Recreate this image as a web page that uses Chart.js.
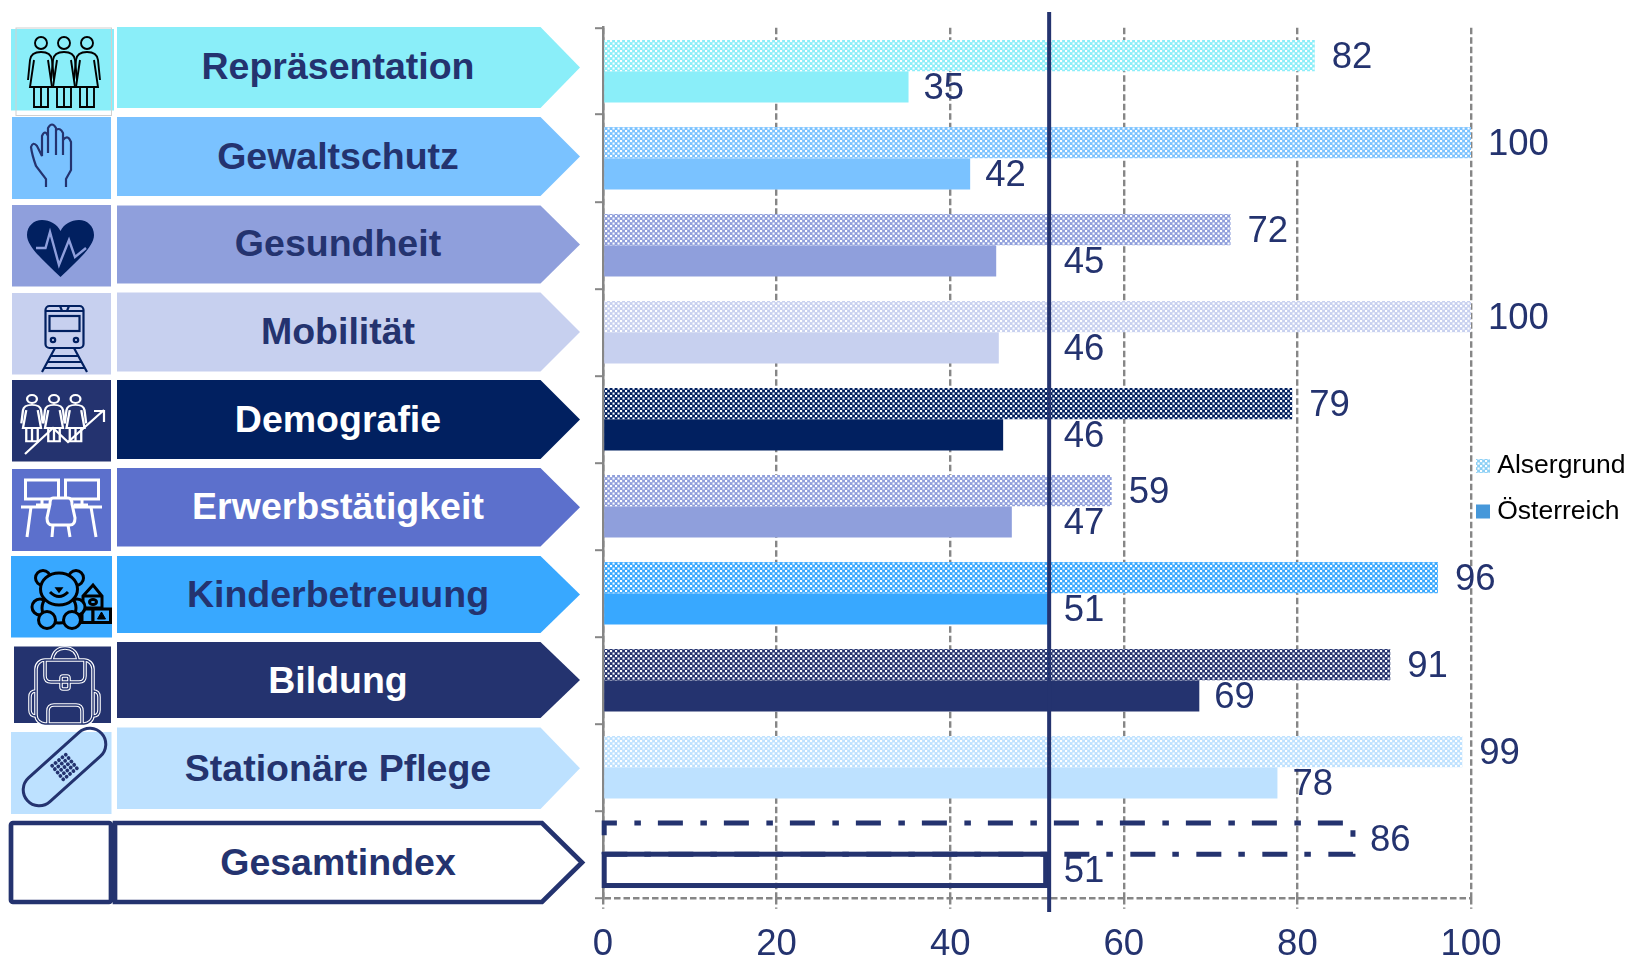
<!DOCTYPE html>
<html lang="de">
<head>
<meta charset="utf-8">
<title>Gleichstellungsindex Alsergrund</title>
<script src="https://cdn.jsdelivr.net/npm/chart.js@4"></script>
<style>
  html, body { margin: 0; background: #fff; }
  #wrap { position: relative; width: 1627px; height: 958px; overflow: hidden; }
  #wrap svg, #wrap canvas { position: absolute; left: 0; top: 0; }
  #side text { font: bold 37.5px "Liberation Sans", Arial, sans-serif; text-anchor: middle; }
</style>
</head>
<body>
<div id="wrap">
<svg id="side" width="1627" height="958" xmlns="http://www.w3.org/2000/svg">
  <defs>
    <g id="frau" fill="none">
      <circle cx="0" cy="0" r="6"/>
      <path d="M-13 37 L-11 17 Q-10 9 0 9 Q10 9 11 17 L13 37"/>
      <path d="M-7 17 L-11 44 H11 L7 17"/>
      <path d="M-7 44 V64 H7 V44 M0 44 V64"/>
    </g>
    <g id="rucksack" fill="none">
      <path d="M52 660 Q54 648 65 648 Q76 648 78 660"/>
      <rect x="36" y="660" width="57" height="64" rx="9"/>
      <path d="M45 660 V676 Q45 682 51 682 H79 Q85 682 85 676 V660"/>
      <rect x="61" y="676" width="8" height="13" rx="2"/>
      <path d="M48 724 V711 Q48 705 54 705 H76 Q82 705 82 711 V724"/>
      <path d="M36 691 Q30 691 30 697 V710 Q30 716 36 716"/>
      <path d="M93 691 Q99 691 99 697 V710 Q99 716 93 716"/>
    </g>
  </defs>
  <g id="boxes"></g>

  <!-- Repräsentation -->
  <rect x="16" y="28" width="95.5" height="87.5" fill="none" stroke="#d0d0d0" stroke-width="1"/>
  <g stroke="#000" stroke-width="1.9">
    <use href="#frau" x="41" y="43"/><use href="#frau" x="87" y="43"/><use href="#frau" x="64" y="43"/>
  </g>

  <!-- Gewaltschutz -->
  <path d="M46 187 V179 L36 166 Q32 155 31 147 Q33 141 37 146 L42 156 V136 Q45 129 48 136 V153 M48 136 V128 Q52 121 56 128 V155 M56 130 Q60 127 63 133 V155 M63 140 Q68 134 71 142 V170 L66 179 V187" fill="none" stroke="#24336f" stroke-width="2.2"/>

  <!-- Gesundheit -->
  <path d="M60.5 277 C45 262 27 247 27 235 C27 226 34 220 42 220 C50 220 57 224 60.5 231 C64 224 71 220 79 220 C87 220 94 226 94 235 C94 247 76 262 60.5 277 Z" fill="#012060"/>
  <path d="M36 248 H45.5 L50 232 L59 265 L69 240 L75 257 L86 248" fill="none" stroke="#8f9fdc" stroke-width="2.4"/>

  <!-- Mobilität -->
  <g fill="none" stroke="#012060" stroke-width="2.2">
    <rect x="45.5" y="306" width="38" height="42" rx="4"/>
    <rect x="49.5" y="316" width="30" height="15"/>
    <path d="M45.5 311 H83.5 M60 306 L62 311 H67 L69 306"/>
    <circle cx="53" cy="340" r="2.2"/><circle cx="76" cy="340" r="2.2"/>
    <path d="M55 348 L42 372 M74 348 L87 372 M50 356 H79 M47 362 H82 M44 368 H85"/>
  </g>

  <!-- Demografie -->
  <g stroke="#fff" stroke-width="2.8">
    <g transform="translate(32 399) scale(.82 .66)"><use href="#frau"/></g>
    <g transform="translate(54 399) scale(.82 .66)"><use href="#frau"/></g>
    <g transform="translate(75.5 399) scale(.82 .66)"><use href="#frau"/></g>
  </g>
  <path d="M25 454 L53 428 L68 442 L104 410 M94 411 H104 V422" fill="none" stroke="#fff" stroke-width="2.2"/>

  <!-- Erwerbstätigkeit -->
  <g fill="none" stroke="#fff" stroke-width="3">
    <rect x="25.5" y="480" width="33" height="19"/>
    <rect x="65.5" y="480" width="33" height="19"/>
    <path d="M21 507 H102 M31 507 L27 537 M91 507 L96 537 M42 499 V506 M36 505 H50 M82 499 V506 M74 505 H88"/>
    <path d="M53 498 H68 Q72 498 72 504 L75 518 Q75 525 70 525 H52 Q47 525 47 518 L50 504 Q50 498 53 498 Z" fill="#5c70cc"/>
    <path d="M53 525 L52 537 M68 525 L70 537"/>
  </g>

  <!-- Kinderbetreuung -->
  <g fill="#38a8ff" stroke="#000" stroke-width="3">
    <path d="M83 596 L93 585 L102 596 V608 H83 Z M83 596 H102"/>
    <ellipse cx="93" cy="602" rx="3.5" ry="2.5"/>
    <rect x="82" y="609" width="11" height="13.5"/>
    <rect x="93" y="609" width="17.5" height="13.5"/>
    <path d="M101.5 612 L105.5 619 H97.5 Z" fill="#000" stroke-width="1"/>
    <circle cx="43" cy="578" r="7.5"/><circle cx="76" cy="578" r="7.5"/>
    <circle cx="40" cy="607" r="8"/><circle cx="77" cy="607" r="8"/>
    <ellipse cx="59" cy="608" rx="17" ry="15"/>
    <circle cx="47" cy="620" r="8.5"/><circle cx="72" cy="620" r="8.5"/>
    <ellipse cx="59" cy="589" rx="18.5" ry="16"/>
    <path d="M50 592 Q59 601 68 592" fill="none"/>
    <path d="M56 588 H62 L59 592 Z" fill="#000" stroke-width="1.5"/>
  </g>

  <!-- Bildung -->
  <use href="#rucksack" stroke="#fff" stroke-width="3.6"/>
  <use href="#rucksack" stroke="#24336f" stroke-width="1.4"/>

  <!-- Stationäre Pflege -->
  <g transform="translate(64.5 767) rotate(-42)">
    <rect x="-50" y="-16" width="100" height="32" rx="16" fill="none" stroke="#24336f" stroke-width="3"/>
    <g id="pflaster" fill="#24336f"></g>
  </g>
  <g id="labels"></g>
</svg>
<canvas id="grafico" width="1627" height="958"></canvas>
</div>

<script>
const categorias = ["Repräsentation","Gewaltschutz","Gesundheit","Mobilität","Demografie","Erwerbstätigkeit","Kinderbetreuung","Bildung","Stationäre Pflege","Gesamtindex"];
const alsergrund = [82,100,72.3,100,79.4,58.6,96.2,90.7,99,86.4];
const oesterreich = [35.2,42.3,45.3,45.6,46.1,47.1,51.3,68.7,77.7,51];
const ticksX = [0,20,40,60,80,100];
const mittelwert = 51.4;

// colours, one per category
const colorBarra = ["#8aeef9","#7ac2ff","#8f9fdc","#c7d0ef","#012060","#8f9fdc","#38a8ff","#24336f","#bde1ff","transparent"];
const azul = "#24336f";
const gris = "#868686";

// left column: arrow + icon box per row, in page pixels
const filas = [
  {fill:"#8aeef9", top:27,  bot:108, boxL:11, boxR:114, boxT:29,  boxB:110.5, base:79,  text:azul},
  {fill:"#7ac2ff", top:117, bot:196, boxL:12, boxR:111, boxT:117, boxB:199,   base:169, text:azul},
  {fill:"#8f9fdc", top:205.5,bot:283.5,boxL:12,boxR:111,boxT:205, boxB:286.5, base:256, text:azul},
  {fill:"#c7d0ef", top:292.5,bot:371.5,boxL:12,boxR:111,boxT:293, boxB:374.5, base:344, text:azul},
  {fill:"#012060", top:380, bot:459, boxL:12, boxR:111, boxT:380, boxB:461.5, base:432, text:"#fff", box:"#24336f"},
  {fill:"#5c70cc", top:468, bot:546.5,boxL:12,boxR:111, boxT:469, boxB:551,   base:519, text:"#fff"},
  {fill:"#38a8ff", top:556, bot:633, boxL:11, boxR:112, boxT:556, boxB:637.5, base:607, text:azul},
  {fill:"#24336f", top:642, bot:718, boxL:14, boxR:111, boxT:646.5,boxB:723,  base:693, text:"#fff"},
  {fill:"#bde1ff", top:727.5,bot:809,boxL:11, boxR:111.5,boxT:732,boxB:814,   base:781, text:azul}
];
const ns = "http://www.w3.org/2000/svg";
function svgEl(parent, tag, attrs, txt) {
  const el = document.createElementNS(ns, tag);
  for (const k in attrs) el.setAttribute(k, attrs[k]);
  if (txt) el.textContent = txt;
  parent.appendChild(el);
  return el;
}
const boxes = document.getElementById("boxes");
const etiquetas = document.getElementById("labels");
filas.forEach((f,i) => {
  const mid = (f.top+f.bot)/2;
  svgEl(boxes,"rect",{x:f.boxL,y:f.boxT,width:f.boxR-f.boxL,height:f.boxB-f.boxT,fill:f.box||f.fill});
  svgEl(boxes,"polygon",{points:`117,${f.top} 540.5,${f.top} 580,${mid} 540.5,${f.bot} 117,${f.bot}`,fill:f.fill});
  svgEl(etiquetas,"text",{x:338,y:f.base,fill:f.text},categorias[i]);
});
// Gesamtindex row is only outlined
svgEl(boxes,"rect",{x:11,y:823,width:100,height:79,rx:2,fill:"none",stroke:azul,"stroke-width":4.7});
svgEl(boxes,"polygon",{points:"115,823 542,823 582,862.5 542,902 115,902",fill:"none",stroke:azul,"stroke-width":4.7});
svgEl(etiquetas,"text",{x:338,y:875,fill:azul},categorias[9]);
// dots on the plaster
const pflaster = document.getElementById("pflaster");
for (let a=-2;a<=2;a++) for (let b=-2;b<=2;b++) {
  const r = Math.PI*3/180;
  svgEl(pflaster,"circle",{cx:(a*4.4*Math.cos(r)-b*4.4*Math.sin(r)).toFixed(1),cy:(a*4.4*Math.sin(r)+b*4.4*Math.cos(r)).toFixed(1),r:1.9});
}

function trama(color) {
  const c = document.createElement("canvas");
  c.width = 5; c.height = 5;
  const g = c.getContext("2d");
  g.fillStyle = color; g.fillRect(0,0,5,5);
  g.fillStyle = "#fff";
  g.fillRect(0,0,2.1,2.1);
  g.fillRect(2.5,2.5,2.1,2.1);
  return g.createPattern(c,"repeat");
}

// outline bars, reference line and value labels
const extras = {
  id: "extras",
  afterDatasetsDraw(chart) {
    const {ctx, scales:{x}} = chart;
    const barA = chart.getDatasetMeta(0).data;
    const barB = chart.getDatasetMeta(1).data;
    const lineaX = x.getPixelForValue(mittelwert);

    ctx.save();
    ctx.strokeStyle = azul;
    ctx.lineWidth = 5;
    const a = barA[9], b = barB[9];
    ctx.setLineDash([25,17.5,6.5,17]);
    ctx.lineDashOffset = 47;
    ctx.beginPath();
    ctx.moveTo(a.base, a.y+a.height/2);
    ctx.lineTo(a.base, a.y-a.height/2);
    ctx.lineTo(a.x, a.y-a.height/2);
    ctx.lineTo(a.x, a.y+a.height/2);
    ctx.lineTo(a.base, a.y+a.height/2);
    ctx.stroke();
    ctx.setLineDash([]);
    ctx.strokeRect(b.base, b.y-b.height/2, b.x-b.base, b.height);

    ctx.lineWidth = 4;
    ctx.beginPath();
    ctx.moveTo(lineaX, 12);
    ctx.lineTo(lineaX, 912);
    ctx.stroke();

    ctx.fillStyle = azul;
    ctx.font = '36.5px "Liberation Sans", Arial, sans-serif';
    ctx.textBaseline = "middle";
    ctx.textAlign = "left";
    categorias.forEach((c,i) => {
      ctx.fillText(Math.round(alsergrund[i]), barA[i].x+17, barA[i].y+2.5);
      // labels that would hit the line go behind it
      const xb = barB[i].x+15;
      const cruza = xb < lineaX && xb+42 > lineaX;
      ctx.fillText(Math.round(oesterreich[i]), cruza || barB[i].x >= lineaX-8 && barB[i].x <= lineaX ? lineaX+14.5 : xb, barB[i].y+2.5);
    });
    ctx.restore();
  },
  afterLayout(chart) {
    // legend floats right of the plot, over the page margin
    const l = chart.legend;
    const w = l.width, h = l.height;
    l.left = 1463; l.right = 1463+w;
    l.top = 433.75; l.bottom = 433.75+h;
  }
};

let miCanvas = document.getElementById("grafico").getContext("2d");
var chart = new Chart(miCanvas,{
  type:"bar",
  plugins:[extras],
  data:{
    labels:categorias,
    datasets:[
      {
        label:"Alsergrund",
        data:alsergrund,
        backgroundColor:colorBarra.map(c => c==="transparent" ? c : trama(c)),
        borderWidth:0,
        categoryPercentage:0.72,
        barPercentage:1
      },
      {
        label:"Österreich",
        data:oesterreich,
        backgroundColor:colorBarra,
        borderWidth:0,
        categoryPercentage:0.72,
        barPercentage:1
      }
    ]
  },
  options:{
    indexAxis:"y",
    responsive:false,
    animation:false,
    layout:{padding:{left:595,right:156,top:27.7,bottom:0}},
    scales:{
      x:{
        min:0,
        max:100,
        afterBuildTicks:s => { s.ticks = ticksX.map(v => ({value:v})); },
        afterFit:s => { s.height = 60.3; },
        border:{display:false,dash:[6.5,3]},
        grid:{color:gris,lineWidth:2.4,tickLength:11,tickColor:gris,tickWidth:2.4,tickBorderDash:[6.5,3]},
        ticks:{color:azul,font:{family:'"Liberation Sans", Arial, sans-serif',size:36.5},padding:14,maxRotation:0,autoSkip:false}
      },
      y:{
        afterFit:s => { s.width = 8; },
        border:{color:gris,width:2.5,dash:[6.5,3]},
        grid:{
          // only the closing line at the bottom is visible inside the plot
          color:c => c.tick ? "transparent" : gris,
          lineWidth:2.4,
          tickLength:8,
          tickColor:gris,
          tickWidth:2,
          tickBorderDash:[]
        },
        ticks:{display:false}
      }
    },
    plugins:{
      tooltip:{enabled:false},
      legend:{
        position:"chartArea",
        align:"start",
        labels:{
          color:"#111",
          font:{family:'"Liberation Sans", Arial, sans-serif',size:26.5},
          usePointStyle:true,
          pointStyle:"rect",
          boxWidth:2,
          boxHeight:14,
          padding:19,
          generateLabels:() => [
            {text:"Alsergrund",fillStyle:trama("#8dd0f5"),lineWidth:0,strokeStyle:"transparent",pointStyle:"rect",datasetIndex:0},
            {text:"Österreich",fillStyle:"#4698da",lineWidth:0,strokeStyle:"transparent",pointStyle:"rect",datasetIndex:1}
          ]
        }
      }
    }
  }
});
</script>
</body>
</html>
